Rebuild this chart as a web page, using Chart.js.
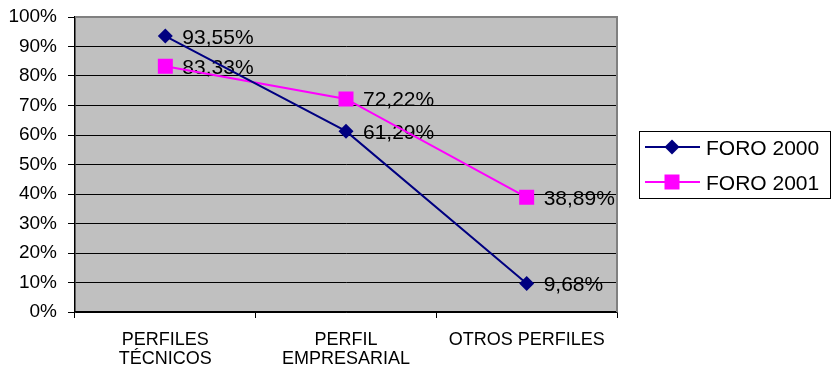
<!DOCTYPE html>
<html>
<head>
<meta charset="utf-8">
<script src="https://cdn.jsdelivr.net/npm/chart.js@4/dist/chart.umd.min.js"></script>
<style>
html,body{margin:0;padding:0;background:#fff;}
canvas{display:block;}
</style>
</head>
<body>
<canvas id="c" width="831" height="371"></canvas>
<script>
const categories = [["PERFILES", "TÉCNICOS"], ["PERFIL", "EMPRESARIAL"], "OTROS PERFILES"];
const seriesNames = ["FORO 2000", "FORO 2001"];
const foro2000 = [93.55, 61.29, 9.68];
const foro2001 = [83.33, 72.22, 38.89];
const yTicks = [0, 10, 20, 30, 40, 50, 60, 70, 80, 90, 100];

const FONT = "'Liberation Sans', Arial, sans-serif";
const colors = ["#000080", "#FF00FF"];
const styles = ["rectRot", "rect"];
const radii = [7.5, 10.6];

const fmt = v => v.toFixed(2).replace('.', ',') + '%';

const bgPlugin = {
  id: 'bg',
  beforeDraw(chart) {
    const a = chart.chartArea, ctx = chart.ctx;
    ctx.save();
    ctx.fillStyle = '#C0C0C0';
    ctx.fillRect(a.left, a.top, a.right - a.left, a.bottom - a.top);
    ctx.restore();
  },
  beforeDatasetsDraw(chart) {
    const a = chart.chartArea, ctx = chart.ctx;
    ctx.save();
    ctx.strokeStyle = '#808080';
    ctx.lineWidth = 2;
    ctx.beginPath();
    ctx.moveTo(a.left, a.top);
    ctx.lineTo(a.right, a.top);
    ctx.lineTo(a.right, a.bottom);
    ctx.stroke();
    ctx.fillStyle = '#000';
    ctx.font = '21px ' + FONT;
    ctx.textAlign = 'left';
    ctx.textBaseline = 'alphabetic';
    chart.data.datasets.forEach((ds, i) => {
      const meta = chart.getDatasetMeta(i);
      meta.data.forEach((pt, j) => {
        ctx.fillText(fmt(ds.data[j]), pt.x + 17, pt.y + 7.5);
      });
    });
    ctx.restore();
  },
  afterDraw(chart) {
    const ctx = chart.ctx;
    ctx.save();
    ctx.fillStyle = '#fff';
    ctx.fillRect(639.5, 131.5, 191, 67);
    ctx.strokeStyle = '#000';
    ctx.lineWidth = 1;
    ctx.strokeRect(639.5, 131.5, 191, 67);
    const ys = [147, 182];
    chart.data.datasets.forEach((ds, i) => {
      const y = ys[i];
      ctx.strokeStyle = colors[i];
      ctx.lineWidth = 2;
      ctx.beginPath();
      ctx.moveTo(645, y);
      ctx.lineTo(700, y);
      ctx.stroke();
      ctx.fillStyle = colors[i];
      ctx.beginPath();
      if (i === 0) {
        ctx.moveTo(672, y - 7.5); ctx.lineTo(679.5, y); ctx.lineTo(672, y + 7.5); ctx.lineTo(664.5, y); ctx.closePath();
      } else {
        ctx.rect(664.5, y - 7.5, 15, 15);
      }
      ctx.fill();
      ctx.fillStyle = '#000';
      ctx.font = '21px ' + FONT;
      ctx.textBaseline = 'alphabetic';
      ctx.fillText(ds.label, 706, y + 7.5);
    });
    ctx.restore();
  }
};

new Chart(document.getElementById('c'), {
  type: 'line',
  data: {
    labels: categories,
    datasets: [
      {
        label: seriesNames[0], data: foro2000,
        borderColor: colors[0], backgroundColor: colors[0],
        borderWidth: 2, pointStyle: styles[0], pointRadius: radii[0],
        pointBorderWidth: 0, pointBackgroundColor: colors[0], tension: 0
      },
      {
        label: seriesNames[1], data: foro2001,
        borderColor: colors[1], backgroundColor: colors[1],
        borderWidth: 2, pointStyle: styles[1], pointRadius: radii[1],
        pointBorderWidth: 0, pointBackgroundColor: colors[1], tension: 0
      }
    ]
  },
  options: {
    responsive: false,
    animation: false,
    layout: { padding: { left: 0, top: 17, right: 214, bottom: 0 } },
    plugins: { legend: { display: false }, tooltip: { enabled: false } },
    scales: {
      x: {
        offset: true,
        grid: { offset: true, drawOnChartArea: false, drawTicks: true, tickLength: 6, color: '#000' },
        border: { display: true, color: '#000', width: 1.5 },
        ticks: { color: '#000', font: { family: FONT, size: 18, lineHeight: 1.06 }, padding: 12, maxRotation: 0, autoSkip: false },
        afterFit(s) { s.height = 59; s.paddingLeft = 0; s.paddingRight = 0; }
      },
      y: {
        min: 0, max: 100,
        afterBuildTicks(s) { s.ticks = yTicks.map(v => ({ value: v })); },
        grid: { color: '#000', lineWidth: 1, drawTicks: true, tickLength: 7, tickColor: '#000' },
        border: { display: true, color: '#000', width: 1.5 },
        ticks: { color: '#000', font: { family: FONT, size: 19 }, padding: 11, callback: v => v + '%' },
        afterFit(s) { s.width = 75; s.paddingTop = 0; s.paddingBottom = 0; }
      }
    }
  },
  plugins: [bgPlugin]
});
</script>
</body>
</html>
